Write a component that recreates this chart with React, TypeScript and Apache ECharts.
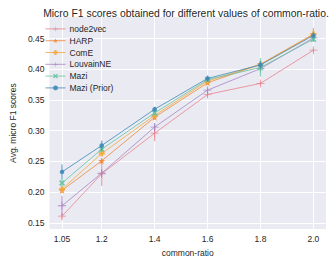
import React, { useEffect, useRef } from "react";
import * as echarts from "echarts";

const xValues = [1.05, 1.2, 1.4, 1.6, 1.8, 2.0];
const yTicks = [0.15, 0.2, 0.25, 0.3, 0.35, 0.4, 0.45];

const names = ["node2vec", "HARP", "ComE", "LouvainNE", "Mazi", "Mazi (Prior)"];
const node2vec = [0.161, 0.23, 0.296, 0.359, 0.377, 0.431];
const harp = [0.203, 0.251, 0.322, 0.378, 0.408, 0.457];
const come = [0.205, 0.263, 0.325, 0.381, 0.408, 0.457];
const louvain = [0.178, 0.231, 0.306, 0.366, 0.401, 0.451];
const mazi = [0.215, 0.27, 0.329, 0.383, 0.403, 0.449];
const maziPrior = [0.233, 0.276, 0.335, 0.385, 0.407, 0.455];

const node2vecErr = [0.004, 0.02, 0.013, 0.004, 0.003, 0.003];
const harpErr = [0.004, 0.004, 0.004, 0.003, 0.004, 0.01];
const comeErr = [0.004, 0.004, 0.004, 0.003, 0.004, 0.006];
const louvainErr = [0.016, 0.004, 0.006, 0.004, 0.004, 0.003];
const maziErr = [0.006, 0.004, 0.004, 0.003, 0.015, 0.004];
const maziPriorErr = [0.012, 0.008, 0.004, 0.005, 0.006, 0.005];

const colors = ["#e7838f", "#f0883a", "#f6a93b", "#a884c4", "#66c2a0", "#3d8ab8"];

const PLUS = "path://M4.5,0H5.5V4.5H10V5.5H5.5V10H4.5V5.5H0V4.5H4.5Z";
const THICK_PLUS = "path://M3,0H7V3H10V7H7V10H3V7H0V3H3Z";
const STAR = "path://M5,0L6.2,3.8L10,3.8L6.9,6.1L8.1,10L5,7.6L1.9,10L3.1,6.1L0,3.8L3.8,3.8Z";
const XMARK = "path://M0,2L2,0L5,3L8,0L10,2L7,5L10,8L8,10L5,7L2,10L0,8L3,5Z";
const symbols = [PLUS, STAR, THICK_PLUS, PLUS, XMARK, "circle"];
const symbolSizes = [8, 7, 6, 8, 6, 4.5];

const FONT = "Liberation Sans";

export default function App() {
  const ref = useRef<HTMLDivElement>(null);
  useEffect(() => {
    if (!ref.current) return;
    const chart = echarts.init(ref.current, null, { renderer: "svg" });
    const values = [node2vec, harp, come, louvain, mazi, maziPrior];
    const errs = [node2vecErr, harpErr, comeErr, louvainErr, maziErr, maziPriorErr];
    const series: any[] = [];
    names.forEach((name, i) => {
      series.push({
        name: name + "-err",
        type: "custom",
        silent: true,
        z: 2 + i,
        data: xValues.map((x, j) => [x, values[i][j] - errs[i][j], values[i][j] + errs[i][j]]),
        renderItem: (params: any, api: any) => {
          const p1 = api.coord([api.value(0), api.value(1)]);
          const p2 = api.coord([api.value(0), api.value(2)]);
          return {
            type: "line",
            shape: { x1: p1[0], y1: p1[1], x2: p2[0], y2: p2[1] },
            style: { stroke: colors[i], lineWidth: 1.2, opacity: 0.75 },
          };
        },
      });
      series.push({
        name,
        type: "line",
        z: 2 + i,
        data: xValues.map((x, j) => [x, values[i][j]]),
        symbol: symbols[i],
        symbolSize: symbolSizes[i],
        showSymbol: true,
        lineStyle: { color: colors[i], width: 1, opacity: 0.8 },
        itemStyle: { color: colors[i], opacity: 0.9 },
      });
    });

    chart.setOption({
      animation: false,
      backgroundColor: "#ffffff",
      title: {
        text: "Micro F1 scores obtained for different values of common-ratio.",
        left: 181,
        textAlign: "center",
        top: 3,
        textStyle: { fontFamily: FONT, fontSize: 10.4, fontWeight: "normal", color: "#262626" },
      },
      legend: {
        data: names.map((n) => ({ name: n, itemStyle: { opacity: 0.9 } })),
        orient: "vertical",
        left: 40,
        top: 19,
        itemGap: 2,
        itemWidth: 20,
        itemHeight: 6,
        lineStyle: { width: 1 },
        textStyle: { fontFamily: FONT, fontSize: 8.5, lineHeight: 9.8, color: "#262626", padding: [0, 0, 0, -1] },
      },
      grid: { left: 36, right: 6, top: 17, bottom: 29, show: true, backgroundColor: "#eaeaf2", borderWidth: 0 },
      xAxis: {
        type: "value",
        min: 1.0025,
        max: 2.0475,
        name: "common-ratio",
        nameLocation: "middle",
        nameGap: 18,
        nameTextStyle: { fontFamily: FONT, fontSize: 8.5, color: "#262626" },
        axisLine: { show: false },
        axisTick: { show: false, customValues: xValues },
        axisLabel: {
          customValues: xValues,
          fontFamily: FONT,
          fontSize: 8.5,
          color: "#262626",
          margin: 5,
          formatter: (v: number) => (v === 2 ? "2.0" : String(v)),
        },
        splitLine: { show: true, lineStyle: { color: "#ffffff", width: 1 } },
      },
      yAxis: {
        type: "value",
        min: 0.14,
        max: 0.485,
        name: "Avg. micro F1 scores",
        nameLocation: "middle",
        nameGap: 25,
        nameTextStyle: { fontFamily: FONT, fontSize: 8.5, color: "#262626" },
        axisLine: { show: false },
        axisTick: { show: false, customValues: yTicks },
        axisLabel: {
          customValues: yTicks,
          fontFamily: FONT,
          fontSize: 8.5,
          color: "#262626",
          margin: 5,
          formatter: (v: number) => v.toFixed(2),
        },
        splitLine: { show: true, lineStyle: { color: "#ffffff", width: 1 } },
      },
      series,
    });
    return () => chart.dispose();
  }, []);
  return <div ref={ref} style={{ width: 332, height: 262, position: "absolute", left: 0, top: 0 }} />;
}
